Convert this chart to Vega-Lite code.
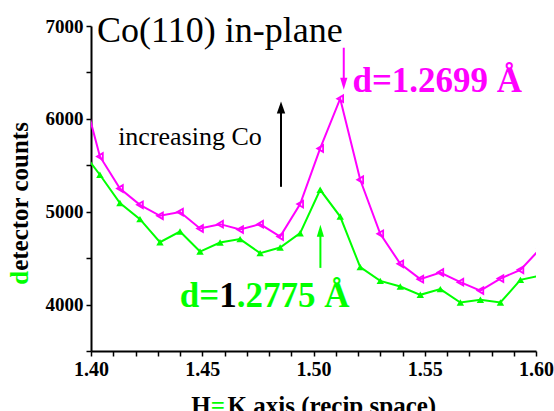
{
  "$schema": "https://vega.github.io/schema/vega-lite/v6.json",
  "autosize": "none",
  "width": 445,
  "height": 325,
  "padding": {"left": 91, "top": 26, "right": 18, "bottom": 60},
  "background": "white",
  "config": {
    "view": {"stroke": null},
    "font": "Liberation Serif"
  },
  "datasets": {
    "curves": [
      {"h": 1.395, "counts": 6412, "sample": "d=1.2699"},
      {"h": 1.404, "counts": 5595, "sample": "d=1.2699"},
      {"h": 1.413, "counts": 5250, "sample": "d=1.2699"},
      {"h": 1.422, "counts": 5074, "sample": "d=1.2699"},
      {"h": 1.431, "counts": 4956, "sample": "d=1.2699"},
      {"h": 1.440, "counts": 4996, "sample": "d=1.2699"},
      {"h": 1.449, "counts": 4819, "sample": "d=1.2699"},
      {"h": 1.458, "counts": 4866, "sample": "d=1.2699"},
      {"h": 1.467, "counts": 4808, "sample": "d=1.2699"},
      {"h": 1.476, "counts": 4866, "sample": "d=1.2699"},
      {"h": 1.485, "counts": 4733, "sample": "d=1.2699"},
      {"h": 1.494, "counts": 5082, "sample": "d=1.2699"},
      {"h": 1.503, "counts": 5681, "sample": "d=1.2699"},
      {"h": 1.512, "counts": 6217, "sample": "d=1.2699"},
      {"h": 1.521, "counts": 5344, "sample": "d=1.2699"},
      {"h": 1.530, "counts": 4762, "sample": "d=1.2699"},
      {"h": 1.539, "counts": 4439, "sample": "d=1.2699"},
      {"h": 1.548, "counts": 4274, "sample": "d=1.2699"},
      {"h": 1.557, "counts": 4345, "sample": "d=1.2699"},
      {"h": 1.566, "counts": 4241, "sample": "d=1.2699"},
      {"h": 1.575, "counts": 4151, "sample": "d=1.2699"},
      {"h": 1.584, "counts": 4280, "sample": "d=1.2699"},
      {"h": 1.593, "counts": 4374, "sample": "d=1.2699"},
      {"h": 1.602, "counts": 4605, "sample": "d=1.2699"},
      {"h": 1.395, "counts": 5681, "sample": "d=1.2775"},
      {"h": 1.404, "counts": 5398, "sample": "d=1.2775"},
      {"h": 1.413, "counts": 5093, "sample": "d=1.2775"},
      {"h": 1.422, "counts": 4920, "sample": "d=1.2775"},
      {"h": 1.431, "counts": 4672, "sample": "d=1.2775"},
      {"h": 1.440, "counts": 4787, "sample": "d=1.2775"},
      {"h": 1.449, "counts": 4571, "sample": "d=1.2775"},
      {"h": 1.458, "counts": 4668, "sample": "d=1.2775"},
      {"h": 1.467, "counts": 4705, "sample": "d=1.2775"},
      {"h": 1.476, "counts": 4554, "sample": "d=1.2775"},
      {"h": 1.485, "counts": 4614, "sample": "d=1.2775"},
      {"h": 1.494, "counts": 4769, "sample": "d=1.2775"},
      {"h": 1.503, "counts": 5236, "sample": "d=1.2775"},
      {"h": 1.512, "counts": 4948, "sample": "d=1.2775"},
      {"h": 1.521, "counts": 4403, "sample": "d=1.2775"},
      {"h": 1.530, "counts": 4255, "sample": "d=1.2775"},
      {"h": 1.539, "counts": 4194, "sample": "d=1.2775"},
      {"h": 1.548, "counts": 4105, "sample": "d=1.2775"},
      {"h": 1.557, "counts": 4166, "sample": "d=1.2775"},
      {"h": 1.566, "counts": 4022, "sample": "d=1.2775"},
      {"h": 1.575, "counts": 4051, "sample": "d=1.2775"},
      {"h": 1.584, "counts": 4022, "sample": "d=1.2775"},
      {"h": 1.593, "counts": 4266, "sample": "d=1.2775"},
      {"h": 1.602, "counts": 4312, "sample": "d=1.2775"}
    ]
  },
  "encoding": {
    "x": {
      "field": "h", "type": "quantitative",
      "scale": {"domain": [1.40, 1.60], "nice": false, "zero": false},
      "axis": {
        "title": null,
        "grid": false,
        "values": [1.40,1.41,1.42,1.43,1.44,1.45,1.46,1.47,1.48,1.49,1.50,1.51,1.52,1.53,1.54,1.55,1.56,1.57,1.58,1.59,1.60],
        "labelExpr": "round(datum.value*100) % 5 == 0 ? format(datum.value, '.2f') : ''",
        "labelFont": "Liberation Serif", "labelFontWeight": "bold", "labelFontSize": 20,
        "labelColor": "black", "labelFlush": false, "labelPadding": 3, "labelOverlap": false,
        "domainColor": "black", "domainWidth": 2,
        "tickColor": "black", "tickWidth": 1.5, "tickSize": 5
      }
    },
    "y": {
      "field": "counts", "type": "quantitative",
      "scale": {"domain": [3500, 7000], "nice": false, "zero": false},
      "axis": {
        "title": null,
        "grid": false,
        "values": [3500,4000,4500,5000,5500,6000,6500,7000],
        "labelExpr": "datum.value % 1000 == 0 && datum.value >= 4000 ? format(datum.value, 'd') : ''",
        "labelFont": "Liberation Serif", "labelFontWeight": "bold", "labelFontSize": 19,
        "labelColor": "black", "labelFlush": false, "labelPadding": 3, "labelOverlap": false,
        "domainColor": "black", "domainWidth": 2,
        "tickColor": "black", "tickWidth": 1.5, "tickSize": 5
      }
    }
  },
  "layer": [
    {
      "data": {"name": "curves"},
      "mark": {"type": "line", "clip": true, "strokeWidth": 2},
      "encoding": {
        "color": {"field": "sample", "type": "nominal", "legend": null,
          "scale": {"domain": ["d=1.2699", "d=1.2775"], "range": ["#ff00ff", "#00ff00"]}}
      }
    },
    {
      "data": {"name": "curves"},
      "transform": [{"filter": "datum.sample == 'd=1.2699'"}],
      "mark": {"type": "point", "clip": true, "shape": "triangle-left", "size": 45, "filled": false, "strokeWidth": 1.8, "color": "#ff00ff", "opacity": 1}
    },
    {
      "data": {"name": "curves"},
      "transform": [{"filter": "datum.sample == 'd=1.2775'"}],
      "mark": {"type": "point", "clip": true, "shape": "triangle-up", "size": 55, "filled": true, "color": "#00ff00", "opacity": 1}
    },
    {
      "data": {"values": [{"h": 1.4854, "counts": 5268, "counts2": 6123}]},
      "mark": {"type": "rule", "color": "black", "strokeWidth": 2},
      "encoding": {"y2": {"field": "counts2"}}
    },
    {
      "data": {"values": [{"h": 1.4854, "counts": 6123}]},
      "mark": {"type": "point", "shape": "M0,-1L0.7,1L-0.7,1Z", "size": 144, "filled": true, "color": "black", "opacity": 1}
    },
    {
      "data": {"values": [{"h": 1.5136, "counts": 6766, "counts2": 6378}]},
      "mark": {"type": "rule", "color": "#ff00ff", "strokeWidth": 2},
      "encoding": {"y2": {"field": "counts2"}}
    },
    {
      "data": {"values": [{"h": 1.5136, "counts": 6378}]},
      "mark": {"type": "point", "shape": "M0,1L0.6,-1L-0.6,-1Z", "size": 144, "filled": true, "color": "#ff00ff", "opacity": 1}
    },
    {
      "data": {"values": [{"h": 1.5031, "counts": 4395, "counts2": 4794}]},
      "mark": {"type": "rule", "color": "#00ff00", "strokeWidth": 2},
      "encoding": {"y2": {"field": "counts2"}}
    },
    {
      "data": {"values": [{"h": 1.5031, "counts": 4794}]},
      "mark": {"type": "point", "shape": "M0,-1L0.6,1L-0.6,1Z", "size": 144, "filled": true, "color": "#00ff00", "opacity": 1}
    },
    {
      "data": {"values": [{"h": 1.4027, "counts": 6831, "label": "Co(110) in-plane"}]},
      "mark": {"type": "text", "align": "left", "baseline": "alphabetic", "font": "Liberation Serif", "fontSize": 36, "color": "black"},
      "encoding": {"text": {"field": "label"}}
    },
    {
      "data": {"values": [{"h": 1.4122, "counts": 5721, "label": "increasing Co"}]},
      "mark": {"type": "text", "align": "left", "baseline": "alphabetic", "font": "Liberation Serif", "fontSize": 26, "color": "black"},
      "encoding": {"text": {"field": "label"}}
    },
    {
      "data": {"values": [{"h": 1.5175, "counts": 6292, "label": "d=1.2699 Å"}]},
      "mark": {"type": "text", "align": "left", "baseline": "alphabetic", "font": "Liberation Serif", "fontWeight": "bold", "fontSize": 35, "color": "#ff00ff"},
      "encoding": {"text": {"field": "label"}}
    },
    {
      "data": {"values": [{"h": 1.4576, "counts": 3978, "label": "d="}]},
      "mark": {"type": "text", "align": "right", "baseline": "alphabetic", "font": "Liberation Serif", "fontWeight": "bold", "fontSize": 35, "color": "#00ff00"},
      "encoding": {"text": {"field": "label"}}
    },
    {
      "data": {"values": [{"h": 1.4576, "counts": 3978, "label": "1"}]},
      "mark": {"type": "text", "align": "left", "baseline": "alphabetic", "font": "Liberation Serif", "fontWeight": "bold", "fontSize": 35, "color": "black"},
      "encoding": {"text": {"field": "label"}}
    },
    {
      "data": {"values": [{"h": 1.4655, "counts": 3978, "label": ".2775 Å"}]},
      "mark": {"type": "text", "align": "left", "baseline": "alphabetic", "font": "Liberation Serif", "fontWeight": "bold", "fontSize": 35, "color": "#00ff00"},
      "encoding": {"text": {"field": "label"}}
    },
    {
      "data": {"values": [{"h": 1.4538, "counts": 2817, "label": "H"}]},
      "mark": {"type": "text", "align": "right", "baseline": "alphabetic", "font": "Liberation Serif", "fontWeight": "bold", "fontSize": 25, "color": "black"},
      "encoding": {"text": {"field": "label"}}
    },
    {
      "data": {"values": [{"h": 1.4538, "counts": 2817, "label": "="}]},
      "mark": {"type": "text", "align": "left", "baseline": "alphabetic", "font": "Liberation Serif", "fontWeight": "bold", "fontSize": 25, "color": "#00ff00"},
      "encoding": {"text": {"field": "label"}}
    },
    {
      "data": {"values": [{"h": 1.4614, "counts": 2817, "label": "K axis (recip space)"}]},
      "mark": {"type": "text", "align": "left", "baseline": "alphabetic", "font": "Liberation Serif", "fontWeight": "bold", "fontSize": 25, "color": "black"},
      "encoding": {"text": {"field": "label"}}
    },
    {
      "data": {"values": [{"h": 1.3716, "counts": 4363, "label": "d"}]},
      "mark": {"type": "text", "align": "right", "baseline": "alphabetic", "angle": 270, "font": "Liberation Serif", "fontWeight": "bold", "fontSize": 25, "color": "#00ff00"},
      "encoding": {"text": {"field": "label"}}
    },
    {
      "data": {"values": [{"h": 1.3716, "counts": 4363, "label": "etector counts"}]},
      "mark": {"type": "text", "align": "left", "baseline": "alphabetic", "angle": 270, "font": "Liberation Serif", "fontWeight": "bold", "fontSize": 25, "color": "black"},
      "encoding": {"text": {"field": "label"}}
    }
  ]
}
